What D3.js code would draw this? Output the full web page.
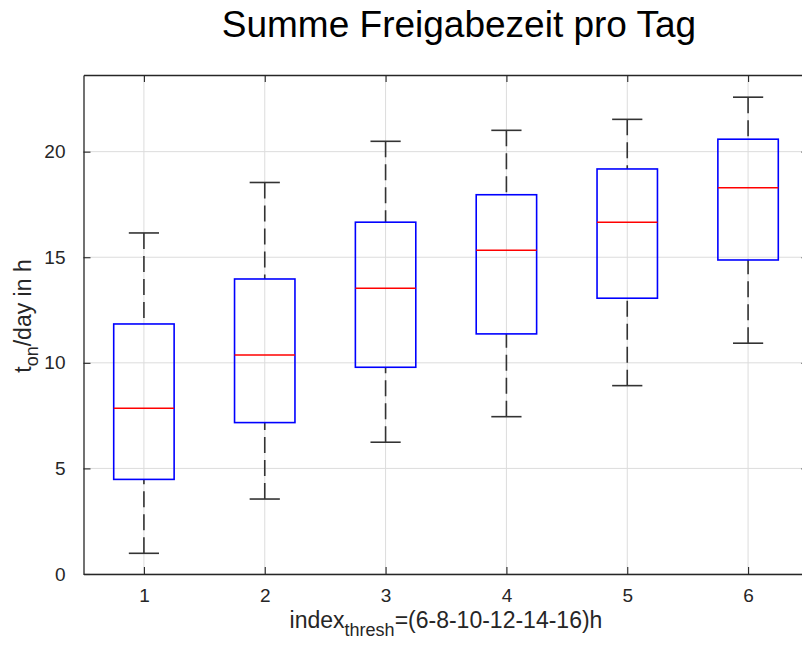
<!DOCTYPE html>
<html>
<head>
<meta charset="utf-8">
<title>Summe Freigabezeit pro Tag</title>
<script src="https://d3js.org/d3.v7.min.js"></script>
<style>
  body { margin: 0; background: #fff; }
  svg { display: block; font-family: "Liberation Sans", Arial, Helvetica, sans-serif; }
</style>
</head>
<body>
<svg id="chart" width="802" height="649"></svg>
<script>
// Daten
var categories   = [1, 2, 3, 4, 5, 6];
var lowWhisker   = [0.98, 3.55, 6.24, 7.45, 8.92, 10.93];
var q1           = [4.48, 7.17, 9.79, 11.37, 13.06, 14.87];
var medians      = [7.85, 10.37, 13.53, 15.33, 16.66, 18.29];
var q3           = [11.84, 13.97, 16.66, 17.96, 19.18, 20.59];
var highWhisker  = [16.15, 18.54, 20.49, 21.01, 21.53, 22.58];
var yTicks       = [0, 5, 10, 15, 20];

var svg = d3.select("#chart");

// Plotbereich
var plotLeft = 83.5, plotRight = 808.5, plotTop = 75, plotBottom = 574;

var x = d3.scaleLinear().domain([0.5, 6.5]).range([plotLeft, plotRight]);
var y = d3.scaleLinear().domain([0, 23.63]).range([plotBottom, plotTop]);

var axisColor = "#262626";

// Gitter
var grid = svg.append("g");
grid.selectAll("line.gx").data(categories).enter().append("line")
    .attr("x1", d => x(d)).attr("x2", d => x(d))
    .attr("y1", plotTop).attr("y2", plotBottom)
    .style("stroke", "#dcdcdc").style("stroke-width", 1);
grid.selectAll("line.gy").data(yTicks).enter().append("line")
    .attr("x1", plotLeft).attr("x2", plotRight)
    .attr("y1", d => y(d)).attr("y2", d => y(d))
    .style("stroke", "#dcdcdc").style("stroke-width", 1);

// Boxplots
var data = categories.map(function(c, i) {
    return { c: c, lo: lowWhisker[i], q1: q1[i], med: medians[i], q3: q3[i], hi: highWhisker[i] };
});

var boxW = 0.5, capW = 0.25;
var g = svg.append("g");

// Whisker (gestrichelt, vom Ende zur Box)
g.selectAll("line.wlo").data(data).enter().append("line")
    .attr("x1", d => x(d.c)).attr("x2", d => x(d.c))
    .attr("y1", d => y(d.lo)).attr("y2", d => y(d.q1))
    .style("stroke", "#333").style("stroke-width", 1.6)
    .style("stroke-dasharray", "16,7");
g.selectAll("line.whi").data(data).enter().append("line")
    .attr("x1", d => x(d.c)).attr("x2", d => x(d.c))
    .attr("y1", d => y(d.hi)).attr("y2", d => y(d.q3))
    .style("stroke", "#333").style("stroke-width", 1.6)
    .style("stroke-dasharray", "16,7");

// Kappen
g.selectAll("line.clo").data(data).enter().append("line")
    .attr("x1", d => x(d.c - capW / 2)).attr("x2", d => x(d.c + capW / 2))
    .attr("y1", d => y(d.lo)).attr("y2", d => y(d.lo))
    .style("stroke", "#333").style("stroke-width", 1.6);
g.selectAll("line.chi").data(data).enter().append("line")
    .attr("x1", d => x(d.c - capW / 2)).attr("x2", d => x(d.c + capW / 2))
    .attr("y1", d => y(d.hi)).attr("y2", d => y(d.hi))
    .style("stroke", "#333").style("stroke-width", 1.6);

// Boxen
g.selectAll("rect").data(data).enter().append("rect")
    .attr("x", d => x(d.c - boxW / 2))
    .attr("width", d => x(d.c + boxW / 2) - x(d.c - boxW / 2))
    .attr("y", d => y(d.q3))
    .attr("height", d => y(d.q1) - y(d.q3))
    .style("fill", "none").style("stroke", "#0000ff").style("stroke-width", 1.6);

// Mediane
g.selectAll("line.med").data(data).enter().append("line")
    .attr("x1", d => x(d.c - boxW / 2)).attr("x2", d => x(d.c + boxW / 2))
    .attr("y1", d => y(d.med)).attr("y2", d => y(d.med))
    .style("stroke", "#ff0000").style("stroke-width", 1.4);

// Achsen
var tickLen = 7;
function styleAxis(sel) {
    sel.select(".domain").style("stroke", axisColor).style("stroke-width", 1.3);
    sel.selectAll(".tick line").style("stroke", axisColor).style("stroke-width", 1.1);
    sel.selectAll(".tick text").style("fill", axisColor).style("font-size", "19px")
        .style("font-family", "'Liberation Sans', Arial, sans-serif");
}

svg.append("g").attr("transform", "translate(0," + plotBottom + ")")
    .call(d3.axisBottom(x).tickValues(categories).tickFormat(d3.format("d"))
        .tickSizeInner(-tickLen).tickSizeOuter(0).tickPadding(15))
    .call(styleAxis);
svg.append("g").attr("transform", "translate(0," + plotTop + ")")
    .call(d3.axisTop(x).tickValues(categories).tickFormat("")
        .tickSizeInner(-tickLen).tickSizeOuter(0))
    .call(styleAxis);
svg.append("g").attr("transform", "translate(" + plotLeft + ",0)")
    .call(d3.axisLeft(y).tickValues(yTicks).tickFormat(d3.format("d"))
        .tickSizeInner(-tickLen).tickSizeOuter(0).tickPadding(18))
    .call(styleAxis);
svg.append("g").attr("transform", "translate(" + plotRight + ",0)")
    .call(d3.axisRight(y).tickValues(yTicks).tickFormat("")
        .tickSizeInner(-tickLen).tickSizeOuter(0))
    .call(styleAxis);

// Titel
svg.append("text")
    .attr("x", 459).attr("y", 37)
    .attr("text-anchor", "middle")
    .style("font-size", "37px").style("fill", "#000")
    .text("Summe Freigabezeit pro Tag");

// x-Beschriftung
var xl = svg.append("text")
    .attr("x", 446).attr("y", 628)
    .attr("text-anchor", "middle")
    .style("font-size", "23px").style("fill", axisColor);
xl.append("tspan").text("index");
xl.append("tspan").attr("dy", 8).style("font-size", "18px").text("thresh");
xl.append("tspan").attr("dy", -8).text("=(6-8-10-12-14-16)h");

// y-Beschriftung
var yl = svg.append("text")
    .attr("transform", "translate(31,316) rotate(-90)")
    .attr("text-anchor", "middle")
    .style("font-size", "23px").style("fill", axisColor);
yl.append("tspan").text("t");
yl.append("tspan").attr("dy", 7).style("font-size", "18px").text("on");
yl.append("tspan").attr("dy", -7).text("/day in h");
</script>
</body>
</html>
